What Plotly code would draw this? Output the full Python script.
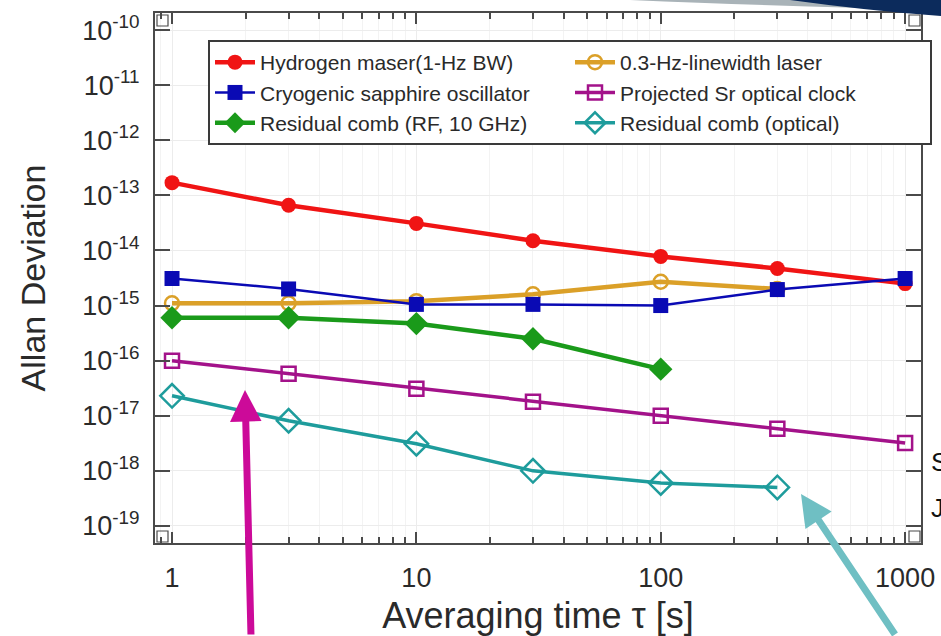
import plotly.graph_objects as go

# ---------------- data ----------------
tau = [1, 3, 10, 30, 100, 300, 1000]
hydrogen_maser = [1.7e-13, 6.6e-14, 3.1e-14, 1.5e-14, 7.8e-15, 4.7e-15, 2.5e-15]
cryo_sapphire = [3.1e-15, 2.0e-15, 1.05e-15, 1.05e-15, 1.0e-15, 1.95e-15, 3.1e-15]
tau_laser = [1, 3, 10, 30, 100, 300]
laser_03hz = [1.1e-15, 1.1e-15, 1.2e-15, 1.6e-15, 2.7e-15, 2.0e-15]
tau_rf = [1, 3, 10, 30, 100]
comb_rf = [6.0e-16, 6.0e-16, 4.7e-16, 2.5e-16, 7.0e-17]
sr_clock = [1.0e-16, 5.8e-17, 3.1e-17, 1.8e-17, 1.0e-17, 5.8e-18, 3.2e-18]
tau_opt = [1, 3, 10, 30, 100, 300]
comb_opt = [2.3e-17, 8.1e-18, 3.1e-18, 1.0e-18, 6.0e-19, 5.0e-19]

x_tickvals = [1, 10, 100, 1000]
x_ticktext = ["1", "10", "100", "1000"]
y_exps = list(range(-10, -20, -1))
y_tickvals = [10.0 ** e for e in y_exps]
y_ticktext = ["10<sup>%d</sup>" % e for e in y_exps]

FONT = "Liberation Sans, Arial, Helvetica, sans-serif"
W, H = 941, 636
ML, MR, MT, MB = 155, 20, 13, 93
PW, PH = W - ML - MR, H - MT - MB


def px(x):
    return (x - ML) / PW


def py(y):
    return (H - MB - y) / PH


fig = go.Figure()

series = [
    ("Hydrogen maser(1-Hz BW)", tau, hydrogen_maser, "#f01414", "circle", 15, 4.5),
    ("0.3-Hz-linewidth laser", tau_laser, laser_03hz, "#dba028", "circle-open", 14, 4.5),
    ("Cryogenic sapphire oscillator", tau, cryo_sapphire, "#0a0ab4", "square", 15, 2.5),
    ("Projected Sr optical clock", tau, sr_clock, "#a3128a", "square-open", 14, 3.5),
    ("Residual comb (RF, 10 GHz)", tau_rf, comb_rf, "#1a9a1a", "diamond", 18, 4.5),
    ("Residual comb (optical)", tau_opt, comb_opt, "#1e9c9c", "diamond-open", 18, 3.5),
]
for name, xs, ys, col, sym, ms, lw in series:
    fig.add_trace(go.Scatter(
        x=xs, y=ys, name=name, mode="lines+markers",
        line=dict(color=col, width=lw),
        marker=dict(symbol=sym, size=ms, color=col,
                    line=dict(color=col, width=2.5 if "open" in sym else 0)),
    ))

axis_col = "#4a4a4a"
fig.update_xaxes(
    type="log", range=[-0.0696, 3.065],
    tickmode="array", tickvals=x_tickvals, ticktext=x_ticktext,
    ticks="inside", ticklen=11, tickwidth=1.5, tickcolor=axis_col,
    showline=True, linecolor=axis_col, linewidth=2, mirror="ticks",
    showgrid=True, gridcolor="#ececec", gridwidth=1,
    minor=dict(dtick="D1", ticks="inside", ticklen=6, tickcolor=axis_col,
               showgrid=True, gridcolor="#f3f3f3"),
    tickfont=dict(family=FONT, size=27, color="#2a2a2a"),
    ticklabelstandoff=10,
    title=dict(text="Averaging time \u03c4 [s]", font=dict(family=FONT, size=36, color="#2a2a2a"),
               standoff=20),
    zeroline=False, automargin=False,
)
fig.update_yaxes(
    type="log", range=[-19.31, -9.69],
    tickmode="array", tickvals=y_tickvals, ticktext=y_ticktext,
    ticks="inside", ticklen=15, tickwidth=1.5, tickcolor=axis_col,
    showline=True, linecolor=axis_col, linewidth=2, mirror="ticks",
    showgrid=True, gridcolor="#ececec", gridwidth=1,
    tickfont=dict(family=FONT, size=27, color="#2a2a2a"),
    ticklabelstandoff=8,
    title=dict(text="Allan Deviation", font=dict(family=FONT, size=34, color="#2a2a2a"),
               standoff=26),
    zeroline=False, automargin=False,
)

annotations = [
    dict(x=px(245), y=py(390), xref="paper", yref="paper", text="", showarrow=True,
         ax=6, ay=255, arrowcolor="#cc0a99", arrowwidth=7, arrowhead=2, arrowsize=0.9,
         standoff=0),
    dict(x=px(801), y=py(494), xref="paper", yref="paper", text="", showarrow=True,
         ax=95, ay=150, arrowcolor="#6fbfc3", arrowwidth=7, arrowhead=2, arrowsize=0.9,
         standoff=0),
    dict(x=px(929), y=py(462), xref="paper", yref="paper", text="S", showarrow=False,
         xanchor="left", yanchor="middle", font=dict(family=FONT, size=26, color="#111")),
    dict(x=px(929), y=py(508), xref="paper", yref="paper", text="J", showarrow=False,
         xanchor="left", yanchor="middle", font=dict(family=FONT, size=26, color="#111")),
]

shapes = [
    dict(type="path", xref="paper", yref="paper", layer="above",
         path="M %f %f Q %f %f %f %f L %f %f Z" % (px(630), py(0), px(800), py(7), px(941), py(10),
                                                 px(941), py(0)),
         fillcolor="#a9b3b8", line=dict(width=0)),
    dict(type="path", xref="paper", yref="paper", layer="above",
         path="M %f %f Q %f %f %f %f L %f %f Z" % (px(790), py(0), px(870), py(11), px(941), py(16),
                                                 px(941), py(0)),
         fillcolor="#0c2b5c", line=dict(width=0)),
]
# small corner boxes
for cx, cy in [(157, 15), (157, 531), (909, 531), (909, 15)]:
    shapes.append(dict(type="rect", xref="paper", yref="paper",
                       x0=px(cx), x1=px(cx + 11), y0=py(cy), y1=py(cy + 11),
                       line=dict(color=axis_col, width=1.2)))

fig.update_layout(
    width=W, height=H, autosize=False,
    margin=dict(l=ML, r=MR, t=MT, b=MB, pad=0, autoexpand=False),
    paper_bgcolor="white", plot_bgcolor="white",
    font=dict(family=FONT, color="#2a2a2a"),
    showlegend=True,
    legend=dict(
        orientation="h", x=px(208), y=py(40), xanchor="left", yanchor="top",
        entrywidth=305, entrywidthmode="pixels",
        bgcolor="white", bordercolor="#3a3a3a", borderwidth=2,
        font=dict(family=FONT, size=21, color="#2a2a2a"),
        traceorder="normal", itemwidth=40,
    ),
    annotations=annotations,
    shapes=shapes,
)

fig.write_html("out.html")
